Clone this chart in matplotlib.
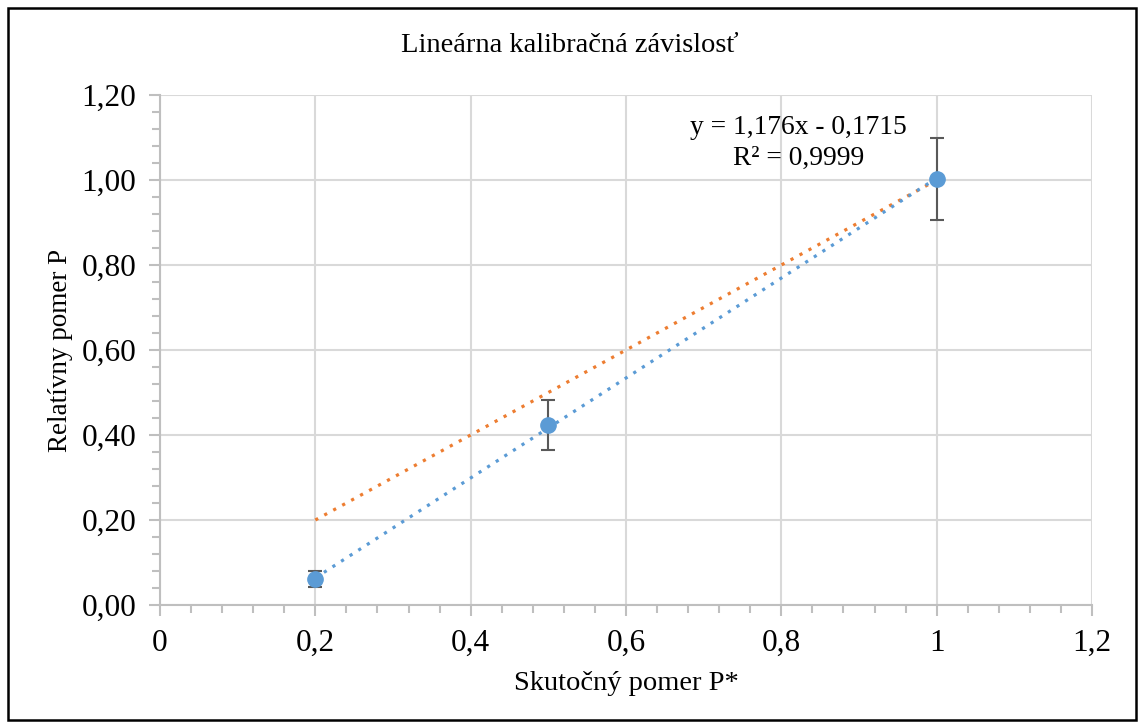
import matplotlib.pyplot as plt
from matplotlib.patches import Rectangle
from matplotlib.ticker import MultipleLocator, FuncFormatter

# namerane body kalibracie
x_real = [0.2, 0.5, 1.0]
y_rel = [0.061, 0.423, 1.002]
y_err = [0.019, 0.059, 0.097]

# linearny trend (Excel) a idealna zavislost y = x
slope = 1.176
intercept = -0.1715
r2 = "0,9999"
x_line = [0.2, 1.0]

plt.rcParams['font.family'] = ['Liberation Serif', 'DejaVu Serif']

fig = plt.figure(figsize=(11.4, 7.24), dpi=100)
ax = fig.add_axes([160 / 1140, 1 - 605 / 724, (1092 - 160) / 1140, (605 - 95) / 724])

# ramik okolo celeho grafu
fig.patches.append(Rectangle((8 / 1140, 4 / 724), 1128 / 1140, 712 / 724,
                             transform=fig.transFigure, fill=False,
                             edgecolor='black', linewidth=1.8))

blue = '#5B9BD5'
orange = '#ED7D31'
grid_c = '#D9D9D9'
axis_c = '#BFBFBF'

ax.plot(x_line, x_line, linestyle=(0, (1, 2.2)), color=orange, linewidth=2.3, zorder=2)
ax.plot(x_line, [slope * v + intercept for v in x_line], linestyle=(0, (1, 2.2)),
        color=blue, linewidth=2.3, zorder=3)
ax.errorbar(x_real, y_rel, yerr=y_err, fmt='o', color=blue, markersize=11,
            ecolor='#595959', elinewidth=1.5, capsize=4.8, capthick=1.5, zorder=4)

ax.set_xlim(0, 1.2)
ax.set_ylim(0, 1.2)
ax.xaxis.set_major_locator(MultipleLocator(0.2))
ax.xaxis.set_minor_locator(MultipleLocator(0.04))
ax.yaxis.set_major_locator(MultipleLocator(0.2))
ax.yaxis.set_minor_locator(MultipleLocator(0.04))

def fmt_x(v, pos):
    s = ('%.1f' % v).replace('.', ',')
    if s.endswith(',0'):
        s = s[:-2]
    return s

ax.xaxis.set_major_formatter(FuncFormatter(fmt_x))
ax.yaxis.set_major_formatter(FuncFormatter(lambda v, p: ('%.2f' % v).replace('.', ',')))

ax.grid(True, which='major', color=grid_c, linewidth=1.5, zorder=0)
ax.set_axisbelow(True)
for side in ['top', 'right']:
    ax.spines[side].set_visible(False)
for side in ['left', 'bottom']:
    ax.spines[side].set_color(axis_c)
    ax.spines[side].set_linewidth(1.5)

ax.tick_params(which='both', color=axis_c, width=1.5, labelsize=22.5)
ax.tick_params(which='major', length=8, pad=9)
ax.tick_params(which='minor', length=6)

ax.set_xlabel("Skutočný pomer P*", fontsize=20.5, labelpad=10)
ax.set_ylabel("Relatívny pomer P", fontsize=19.5, labelpad=6)
fig.text(0.5, 1 - 45 / 724, "Lineárna kalibračná závislosť", ha='center', va='center', fontsize=20.5)

ax.text(0.822, 1.087, "y = 1,176x - 0,1715\nR² = " + r2, ha='center', va='center',
        fontsize=19.8, linespacing=1.3, zorder=5)

fig.savefig("out.png", dpi=100)
